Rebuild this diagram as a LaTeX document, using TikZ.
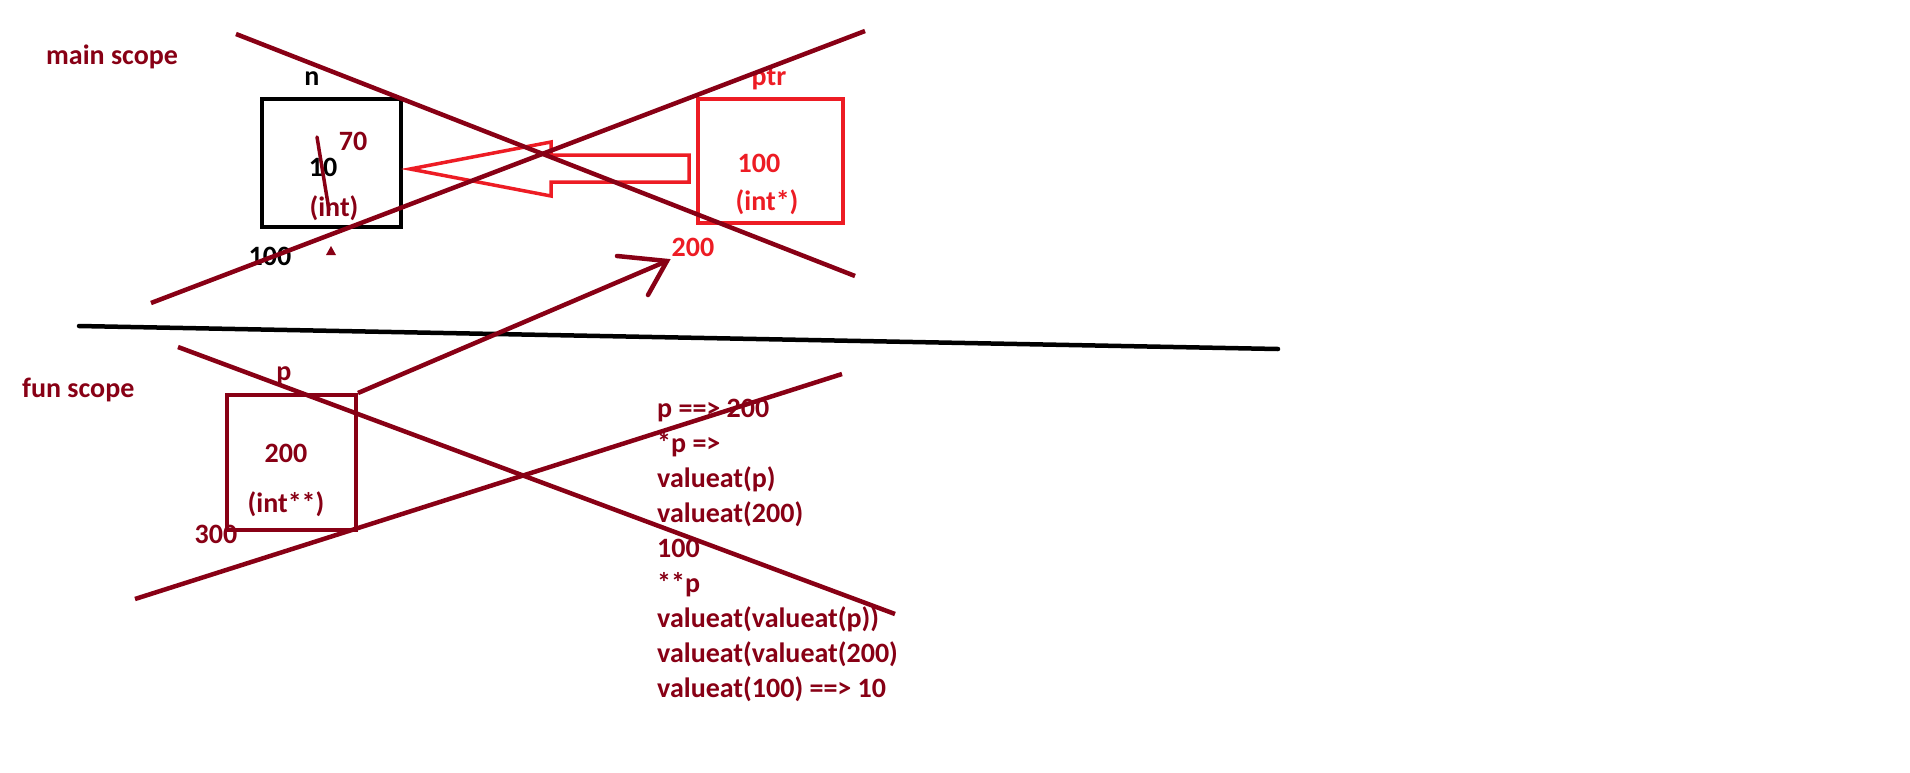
\documentclass[tikz,border=0pt]{standalone}
\usepackage{fontspec}
\setmainfont{Carlito}
\definecolor{dred}{RGB}{136,0,21}
\definecolor{pred}{RGB}{237,28,36}
\begin{document}
\begin{tikzpicture}[x=1pt,y=-1pt,
  every node/.style={font=\fontsize{28}{35}\selectfont\bfseries, inner sep=0pt},
  lbl/.style={anchor=base},
  box/.style={draw, line width=4pt, inner sep=0pt},
  stroke/.style={dred, line width=4.5pt},
  sep/.style={black, line width=4.5pt},
  hollow/.style={pred, line width=3.5pt, line join=miter}]
\useasboundingbox[fill=white] (0,0) rectangle (1910,772);

% boxes
\node[box, black, minimum width=139pt, minimum height=128pt] (n) at (331.5,163) {};
\node[box, pred, minimum width=145pt, minimum height=124pt] (ptr) at (770.5,161) {};
\node[box, dred, minimum width=129pt, minimum height=135pt] (p) at (291.5,462.5) {};

% labels main scope
\node[dred, anchor=base west] (mainscope) at (46,64) {main scope};
\node[lbl, black] (nname) at (312,85) {n};
\node[lbl, dred] (seventy) at (353,150) {70};
\node[lbl, black] (ten) at (323,176) {10};
\node[lbl, dred] (nint) at (334,216) {(int)};
\node[lbl, black] (naddr) at (270,265) {100};
\node[lbl, pred] (ptrname) at (769,85) {ptr};
\node[lbl, pred] (ptrval) at (759,172) {100};
\node[lbl, pred] (ptrtype) at (767,210) {(int*)};
\node[lbl, pred] (ptraddr) at (693,256) {200};

% labels fun scope
\node[dred, anchor=base west] (funscope) at (22,397) {fun scope};
\node[lbl, dred] (pname) at (284,380) {p};
\node[lbl, dred] (pval) at (286,462) {200};
\node[lbl, dred] (ptype) at (286,512) {(int**)};
\node[lbl, dred] (paddr) at (216,543) {300};

\node[dred, anchor=base west, align=left] (calc) at (657,697)
  {p ==> 200\\{}*p =>\\valueat(p)\\valueat(200)\\100\\{}**p\\valueat(valueat(p))\\valueat(valueat(200)\\valueat(100) ==> 10};

% small triangle mark
\fill[dred] (326,255) -- (336,255) -- (331,246) -- cycle;

% hollow arrow from ptr to n
\coordinate (htip) at (410,169);
\draw[hollow] (htip) -- (551,142) -- (551,155) -- (689,155) -- (689,182) -- (551,182) -- (551,196) -- cycle;

% separator
\coordinate (s1) at (79,326);
\coordinate (s2) at (1278,349);
\draw[sep, line cap=round] (s1) -- (s2);

% arrow from p to 200
\coordinate (atip) at (667,261);
\draw[stroke] (p.north east) -- (atip);
\draw[stroke, line cap=round] (617,256) -- (atip) -- (648,295);

% strike-through on 10
\draw[dred, line width=3.5pt, line cap=round] (317,137) -- (329,210);

% crosses
\draw[stroke] (236,34) -- (855,276);
\draw[stroke] (151,303) -- (865,31);
\draw[stroke] (178,347) -- (895,614);
\draw[stroke] (135,599) -- (842,374);
\end{tikzpicture}
\end{document}
